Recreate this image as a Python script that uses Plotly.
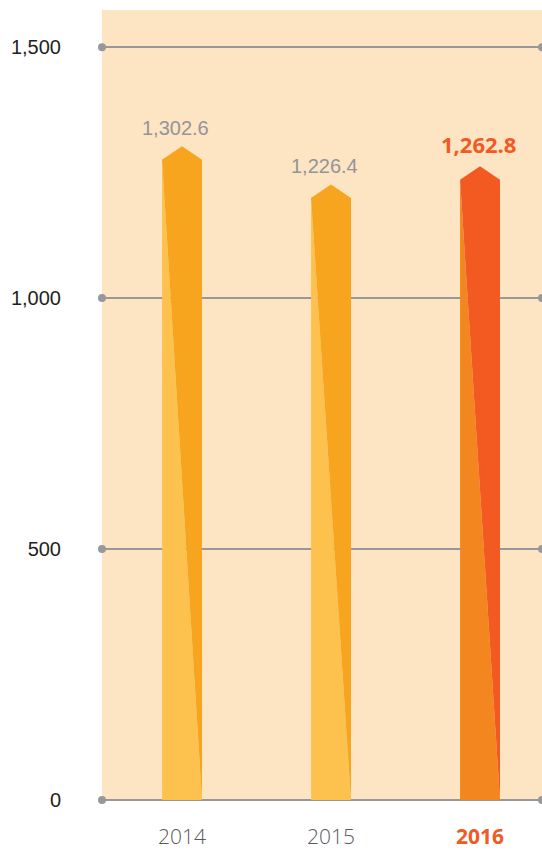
import plotly.graph_objects as go

years = ["2014", "2015", "2016"]
values = [1302.6, 1226.4, 1262.8]
value_labels = ["1,302.6", "1,226.4", "1,262.8"]
light_colors = ["#FDC14E", "#FDC14E", "#F48620"]
dark_colors = ["#F7A51E", "#F7A51E", "#F25A22"]
ytick_vals = [0, 500, 1000, 1500]
ytick_text = ["0", "500", "1,000", "1,500"]

BG = "#FDE4C3"
GRID = "#98989A"
HALF_W = 0.134
SHOULDER = 27
X_RANGE = [-0.537, 2.416]
Y_RANGE = [0, 1574]

fig = go.Figure()

for i, (v, lc, dc) in enumerate(zip(values, light_colors, dark_colors)):
    # lower-left light triangle
    fig.add_trace(go.Scatter(
        x=[i - HALF_W, i - HALF_W, i + HALF_W, i - HALF_W],
        y=[0, v - SHOULDER, 0, 0],
        fill="toself", fillcolor=lc, mode="lines",
        line=dict(width=0, color=lc), hoverinfo="skip", showlegend=False))
    # upper-right dark part with arrow tip
    fig.add_trace(go.Scatter(
        x=[i - HALF_W, i, i + HALF_W, i + HALF_W, i - HALF_W],
        y=[v - SHOULDER, v, v - SHOULDER, 0, v - SHOULDER],
        fill="toself", fillcolor=dc, mode="lines",
        line=dict(width=0, color=dc), hoverinfo="skip", showlegend=False))

# gridline end dots
dot_x = []
dot_y = []
for t in ytick_vals:
    dot_x += [X_RANGE[0], X_RANGE[1]]
    dot_y += [t, t]
fig.add_trace(go.Scatter(x=dot_x, y=dot_y, mode="markers",
                         marker=dict(size=8, color=GRID),
                         cliponaxis=False, hoverinfo="skip", showlegend=False))

# value labels
for i, (v, lab) in enumerate(zip(values, value_labels)):
    if i == 2:
        fig.add_annotation(x=i, y=v, text="<b>" + lab + "</b>", showarrow=False,
                           yanchor="bottom", yshift=5, xshift=-2,
                           font=dict(family="Open Sans", size=22, color="#F15A22"))
    else:
        fig.add_annotation(x=i, y=v, text=lab, showarrow=False,
                           yanchor="bottom", yshift=5, xshift=-7,
                           font=dict(family="Liberation Sans, Arial", size=20, color="#939598"))

xt = []
for i, y in enumerate(years):
    if i == 2:
        xt.append("<b><span style='color:#F15A22'>" + y + "</span></b>")
    else:
        xt.append(y)

fig.update_layout(
    width=542, height=851,
    margin=dict(l=102, r=0, t=10, b=51),
    paper_bgcolor="white",
    plot_bgcolor=BG,
    xaxis=dict(range=X_RANGE, tickvals=list(range(len(years))), ticktext=xt,
               showgrid=False, zeroline=False, showline=False, ticks="",
               tickfont=dict(family="Open Sans", size=21, color="#58595B", weight=300),
               ticklabelstandoff=22, fixedrange=True),
    yaxis=dict(range=Y_RANGE, tickvals=ytick_vals, ticktext=ytick_text,
               showgrid=True, gridcolor=GRID, gridwidth=2,
               zeroline=True, zerolinecolor=GRID, zerolinewidth=2,
               showline=False, ticks="",
               tickfont=dict(family="Liberation Sans, Arial", size=20, color="#231F20"),
               ticklabelstandoff=40, fixedrange=True),
)

fig.write_html("out.html")
